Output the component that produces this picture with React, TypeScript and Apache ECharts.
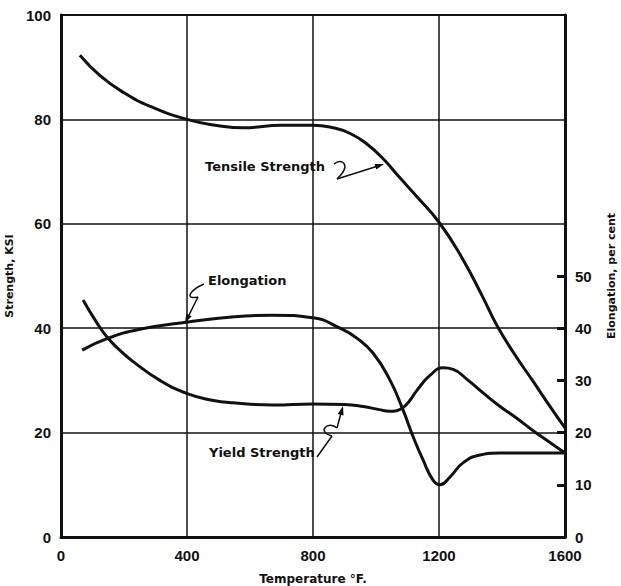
import React, { useEffect, useRef } from "react";
import * as echarts from "echarts";

const tensileTemp = [60, 124, 200, 283, 400, 500, 580, 700, 800, 864, 918, 971, 1022, 1076, 1130, 1200, 1270, 1337, 1384, 1440, 1500, 1550, 1600];
const tensileKsi = [92.3, 88.4, 85.1, 82.5, 80, 78.8, 78.4, 78.9, 78.9, 78.4, 77.3, 75.3, 72.5, 68.8, 65.2, 60.3, 53.8, 46.2, 40.5, 35, 29.7, 25.2, 20.9];

const yieldTemp = [70, 110, 146, 190, 229, 314, 403, 480, 546, 673, 800, 900, 960, 1010, 1044, 1065, 1086, 1108, 1130, 1172, 1213, 1245, 1289, 1340, 1394, 1450, 1500, 1550, 1600];
const yieldKsi = [45.4, 41.4, 38.3, 35.6, 33.6, 30, 27.4, 26.2, 25.7, 25.3, 25.5, 25.4, 25, 24.4, 24.1, 24.2, 24.8, 26.2, 28.1, 31, 32.4, 32.1, 30.2, 27.6, 25, 22.6, 20.3, 18.2, 16.1];

const elongTemp = [67, 146, 250, 403, 550, 673, 800, 886, 939, 991, 1044, 1086, 1118, 1149, 1181, 1203, 1235, 1276, 1330, 1394, 1500, 1600];
const elongPct = [35.8, 38, 39.8, 41.2, 42.2, 42.5, 42, 40, 38.1, 35.2, 30.1, 24.3, 19.2, 14.8, 10.9, 10, 11.5, 14.2, 15.7, 16.1, 16.1, 16.1];

const xTicks = [0, 400, 800, 1200, 1600];
const rightTicks = [0, 10, 20, 30, 40, 50];

const FONT = "Liberation Sans";
const TFONT = "DejaVu Sans";

export default function App() {
  const ref = useRef<HTMLDivElement>(null);
  useEffect(() => {
    if (!ref.current) return;
    const chart = echarts.init(ref.current, null, { renderer: "svg" });
    const ink = "#111";
    const lineStyle = { color: ink, width: 3 };
    const lineBase = { type: "line", smooth: 0.5, symbol: "none", lineStyle };
    chart.setOption({
      animation: false,
      backgroundColor: "#fff",
      grid: {
        left: 61, right: 56, top: 15, bottom: 49,
        containLabel: false, outerBoundsMode: "none",
        show: true, borderColor: ink, borderWidth: 2,
      },
      xAxis: {
        type: "value",
        min: 0,
        max: 1600,
        interval: 400,
        name: "Temperature °F.",
        nameLocation: "middle",
        nameGap: 36,
        nameTextStyle: { fontFamily: TFONT, fontWeight: "bold", fontSize: 12, color: ink },
        axisLine: { show: true, lineStyle: { color: ink, width: 3 } },
        axisTick: { show: false },
        axisLabel: {
          fontFamily: FONT, fontWeight: "bold", fontSize: 15, color: ink, margin: 11,
          customValues: xTicks, formatter: (v: number) => String(v),
        },
        splitLine: { show: true, lineStyle: { color: ink, width: 1.5 } },
      },
      yAxis: [
        {
          type: "value",
          min: 0,
          max: 100,
          interval: 20,
          name: "Strength, KSI",
          nameLocation: "middle",
          nameGap: 43,
          nameTextStyle: { fontFamily: TFONT, fontWeight: "bold", fontSize: 11, color: ink },
          axisLine: { show: true, lineStyle: { color: ink, width: 3 } },
          axisTick: { show: false },
          axisLabel: { fontFamily: FONT, fontWeight: "bold", fontSize: 15, color: ink, margin: 10 },
          splitLine: { show: true, lineStyle: { color: ink, width: 1.5 } },
        },
        {
          type: "value",
          min: 0,
          max: 100,
          interval: 10,
          position: "right",
          name: "Elongation, per cent",
          nameLocation: "middle",
          nameGap: 41,
          nameRotate: 90,
          nameTextStyle: { fontFamily: TFONT, fontWeight: "bold", fontSize: 11, color: ink },
          axisLine: { show: true, lineStyle: { color: ink, width: 3 } },
          axisTick: { show: true, inside: true, length: 8, lineStyle: { color: ink, width: 3 }, customValues: rightTicks },
          axisLabel: { fontFamily: FONT, fontWeight: "bold", fontSize: 15, color: ink, margin: 10, customValues: rightTicks },
          splitLine: { show: false },
        },
      ],
      series: [
        { ...lineBase, name: "Tensile Strength", yAxisIndex: 0, data: tensileTemp.map((t, i) => [t, tensileKsi[i]]) },
        { ...lineBase, name: "Yield Strength", yAxisIndex: 0, data: yieldTemp.map((t, i) => [t, yieldKsi[i]]) },
        { ...lineBase, name: "Elongation", yAxisIndex: 1, data: elongTemp.map((t, i) => [t, elongPct[i]]) },
      ],
      graphic: [
        { type: "text", left: 205, top: 160, style: { text: "Tensile Strength", font: `bold 13px "${TFONT}"`, fill: ink } },
        { type: "bezierCurve", shape: { x1: 334, y1: 164, cpx1: 342, cpy1: 157, cpx2: 352, cpy2: 165, x2: 337, y2: 179 }, style: { stroke: ink, lineWidth: 1.5, fill: "none" } },
        { type: "line", shape: { x1: 337, y1: 179, x2: 378, y2: 166 }, style: { stroke: ink, lineWidth: 1.5 } },
        { type: "polygon", shape: { points: [[384, 164], [376.3, 169.6], [374.5, 163.9]] }, style: { fill: ink } },

        { type: "text", left: 208, top: 274, style: { text: "Elongation", font: `bold 13px "${TFONT}"`, fill: ink } },
        { type: "bezierCurve", shape: { x1: 204, y1: 284, cpx1: 190, cpy1: 290, cpx2: 184, cpy2: 300, x2: 198, y2: 297 }, style: { stroke: ink, lineWidth: 1.5, fill: "none" } },
        { type: "line", shape: { x1: 198, y1: 297, x2: 188, y2: 317 }, style: { stroke: ink, lineWidth: 1.5 } },
        { type: "polygon", shape: { points: [[185, 323], [191.7, 316.3], [186.3, 313.7]] }, style: { fill: ink } },

        { type: "text", left: 209, top: 446, style: { text: "Yield Strength", font: `bold 13px "${TFONT}"`, fill: ink } },
        { type: "line", shape: { x1: 317, y1: 457, x2: 332, y2: 436 }, style: { stroke: ink, lineWidth: 1.5 } },
        { type: "bezierCurve", shape: { x1: 332, y1: 436, cpx1: 316, cpy1: 432, cpx2: 328, cpy2: 420, x2: 337, y2: 428 }, style: { stroke: ink, lineWidth: 1.5, fill: "none" } },
        { type: "line", shape: { x1: 337, y1: 428, x2: 341, y2: 413 }, style: { stroke: ink, lineWidth: 1.5 } },
        { type: "polygon", shape: { points: [[343, 406], [343.5, 415.5], [337.7, 413.9]] }, style: { fill: ink } },
      ],
    });
    return () => chart.dispose();
  }, []);
  return <div ref={ref} style={{ position: "absolute", left: 0, top: 0, width: 621, height: 586 }} />;
}
